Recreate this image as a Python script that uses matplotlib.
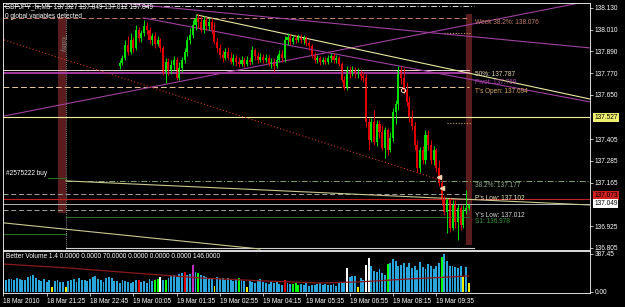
import matplotlib
matplotlib.use('Agg')
import matplotlib.pyplot as plt
import numpy as np

plt.rcParams['font.family'] = ['Liberation Sans', 'DejaVu Sans']

# ---- candles (M5), bar index 43 .. 172
first_bar = 43
opens = [137.810, 137.826, 137.854, 137.926, 137.887, 137.953, 137.909, 138.008, 137.964, 137.992,
         138.030, 138.008, 137.953, 137.975, 137.931, 137.953, 137.909, 137.776, 137.832, 137.788,
         137.815, 137.843, 137.743, 137.799, 137.843, 137.887, 137.953, 137.981, 138.036, 138.075,
         138.053, 138.008, 138.064, 138.030, 138.053, 138.008, 137.942, 137.909, 137.870, 137.854,
         137.887, 137.854, 137.832, 137.854, 137.832, 137.821, 137.843, 137.821, 137.843, 137.832,
         137.898, 137.865, 137.843, 137.859, 137.843, 137.854, 137.821, 137.832, 137.810, 137.843,
         137.876, 137.854, 137.953, 137.970, 137.942, 137.964, 137.953, 137.970, 137.953, 137.964,
         137.937, 137.920, 137.870, 137.843, 137.854, 137.832, 137.843, 137.832, 137.854, 137.865,
         137.843, 137.854, 137.821, 137.732, 137.688, 137.788, 137.776, 137.788, 137.765, 137.776,
         137.754, 137.743, 137.500, 137.401, 137.500, 137.390, 137.489, 137.445, 137.357, 137.456,
         137.346, 137.412, 137.556, 137.600, 137.788, 137.743, 137.677, 137.611, 137.522, 137.478,
         137.373, 137.246, 137.346, 137.291, 137.429, 137.373, 137.291, 137.346, 137.246, 137.164,
         137.070, 137.003, 137.070, 136.915, 137.042, 136.948, 137.025, 136.932, 137.014, 137.027]
highs = [137.843, 137.870, 137.953, 137.975, 137.992, 137.970, 138.036, 138.025, 138.008, 138.064,
         138.053, 138.025, 137.992, 137.997, 137.975, 137.964, 137.920, 137.854, 137.854, 137.843,
         137.865, 137.859, 137.832, 137.859, 137.909, 137.975, 138.019, 138.064, 138.097, 138.097,
         138.086, 138.086, 138.080, 138.075, 138.075, 138.053, 137.964, 137.931, 137.898, 137.909,
         137.915, 137.887, 137.876, 137.870, 137.859, 137.865, 137.859, 137.865, 137.859, 137.920,
         137.909, 137.887, 137.881, 137.876, 137.876, 137.870, 137.854, 137.854, 137.870, 137.898,
         137.898, 137.975, 137.992, 137.986, 137.981, 137.981, 137.986, 137.986, 137.981, 137.975,
         137.953, 137.931, 137.887, 137.870, 137.865, 137.859, 137.859, 137.870, 137.881, 137.881,
         137.870, 137.865, 137.832, 137.754, 137.810, 137.810, 137.810, 137.804, 137.799, 137.788,
         137.776, 137.765, 137.522, 137.522, 137.567, 137.511, 137.511, 137.484, 137.473, 137.467,
         137.445, 137.578, 137.622, 137.810, 137.810, 137.799, 137.721, 137.644, 137.567, 137.500,
         137.401, 137.362, 137.368, 137.456, 137.456, 137.401, 137.368, 137.357, 137.291, 137.180,
         137.092, 137.081, 137.081, 137.070, 137.070, 137.048, 137.042, 137.042, 137.125, 137.049]
lows = [137.793, 137.815, 137.843, 137.870, 137.876, 137.887, 137.898, 137.942, 137.942, 137.975,
        137.986, 137.931, 137.926, 137.909, 137.920, 137.887, 137.760, 137.716, 137.760, 137.765,
        137.788, 137.732, 137.732, 137.776, 137.826, 137.865, 137.931, 137.964, 138.008, 138.019,
        137.997, 137.992, 138.008, 138.008, 137.986, 137.931, 137.887, 137.854, 137.832, 137.843,
        137.843, 137.821, 137.815, 137.810, 137.804, 137.810, 137.804, 137.810, 137.815, 137.821,
        137.843, 137.826, 137.832, 137.826, 137.832, 137.810, 137.799, 137.776, 137.799, 137.832,
        137.832, 137.832, 137.926, 137.926, 137.931, 137.937, 137.942, 137.937, 137.931, 137.920,
        137.898, 137.854, 137.826, 137.826, 137.815, 137.821, 137.821, 137.821, 137.832, 137.826,
        137.826, 137.810, 137.721, 137.677, 137.677, 137.743, 137.754, 137.743, 137.743, 137.732,
        137.721, 137.473, 137.346, 137.390, 137.373, 137.368, 137.412, 137.346, 137.302, 137.318,
        137.335, 137.390, 137.489, 137.567, 137.710, 137.655, 137.589, 137.500, 137.456, 137.346,
        137.224, 137.224, 137.268, 137.268, 137.346, 137.268, 137.263, 137.224, 137.147, 137.042,
        136.987, 136.887, 136.893, 136.904, 136.915, 136.849, 136.904, 136.915, 136.992, 137.012]
closes = [137.826, 137.854, 137.926, 137.887, 137.953, 137.909, 138.008, 137.964, 137.992, 138.030,
          138.008, 137.953, 137.975, 137.931, 137.953, 137.909, 137.776, 137.832, 137.788, 137.815,
          137.843, 137.743, 137.799, 137.843, 137.887, 137.953, 137.981, 138.036, 138.075, 138.053,
          138.008, 138.064, 138.030, 138.053, 138.008, 137.942, 137.909, 137.870, 137.854, 137.887,
          137.854, 137.832, 137.854, 137.832, 137.821, 137.843, 137.821, 137.843, 137.832, 137.898,
          137.865, 137.843, 137.859, 137.843, 137.854, 137.821, 137.832, 137.810, 137.843, 137.876,
          137.854, 137.953, 137.970, 137.942, 137.964, 137.953, 137.970, 137.953, 137.964, 137.937,
          137.920, 137.870, 137.843, 137.854, 137.832, 137.843, 137.832, 137.854, 137.865, 137.843,
          137.854, 137.821, 137.732, 137.688, 137.788, 137.776, 137.788, 137.765, 137.776, 137.754,
          137.743, 137.500, 137.401, 137.500, 137.390, 137.489, 137.445, 137.357, 137.456, 137.346,
          137.412, 137.556, 137.600, 137.788, 137.743, 137.677, 137.611, 137.522, 137.478, 137.373,
          137.246, 137.346, 137.291, 137.429, 137.373, 137.291, 137.346, 137.246, 137.164, 137.070,
          137.003, 137.070, 136.915, 137.042, 136.948, 137.025, 136.932, 137.014, 137.027, 137.049]

# ---- Better Volume, bar index 0 .. 172
volume = [130, 125, 135, 128, 120, 140, 132, 118, 126, 150,
          165, 170, 140, 120, 110, 135, 100, 120, 50, 115,
          125, 105, 98, 55, 110, 120, 130, 100, 140, 125,
          118, 112, 135, 150, 160, 128, 120, 105, 140, 150,
          138, 115, 108, 95, 120, 110, 100, 90, 105, 125,
          125, 100, 115, 95, 130, 110, 125, 130, 150, 120,
          120, 140, 160, 170, 155, 180, 190, 205, 175, 185,
          280, 200, 190, 170, 160, 150, 130, 140, 60, 150,
          130, 145, 120, 140, 125, 110, 130, 140, 120, 115,
          55, 110, 105, 95, 120, 130, 100, 90, 85, 100,
          90, 110, 80, 70, 120, 95, 80, 85, 90, 75,
          80, 70, 95, 65, 70, 75, 80, 90, 70, 85,
          75, 70, 80, 65, 90, 100, 105, 240, 150, 165,
          160, 50, 140, 120, 280, 350, 260, 210, 200, 230,
          190, 170, 290, 300, 340, 320, 260, 275, 300, 250,
          300, 240, 270, 220, 310, 250, 230, 290, 270, 230,
          260, 300, 355, 390, 320, 270, 260, 250, 240, 260,
          150, 250, 90]
vol_special = {18: 'y', 23: 'y', 50: 'r', 56: 'g', 57: 'g', 58: 'w', 60: 'g', 67: 'r', 70: 'm',
               72: 'g', 78: 'y', 87: 'g', 90: 'y', 104: 'r', 107: 'g', 108: 'g', 109: 'g',
               127: 'w', 131: 'y', 134: 'w', 135: 'w', 142: 'g', 162: 'g', 170: 'y', 172: 'y'}
vol_ma_bars = [0, 24, 48, 73, 97, 117, 132, 150, 172]
vol_ma_vals = [285, 245, 194, 143, 112, 92, 104, 133, 163]

time_labels = ['18 Mar 2010', '18 Mar 21:25', '18 Mar 22:45', '19 Mar 00:05', '19 Mar 01:35',
               '19 Mar 02:55', '19 Mar 04:15', '19 Mar 05:35', '19 Mar 06:55', '19 Mar 08:15',
               '19 Mar 09:35']
price_ticks = [138.130, 138.010, 137.890, 137.770, 137.650, 137.405, 137.285, 137.165, 136.925, 136.805]

# ---- horizontal levels: price, bar from, bar to, colour, style, width
levels = [
    (138.141, 0, 174, '#d8d8d8', (0, (6, 2, 1, 2)), 0.7),
    (138.076, 0, 172, '#c8806a', (0, (5, 3)), 0.7),
    (137.787, 0, 172, '#f0d8d8', '-', 0.7),
    (137.769, 0, 172, '#b040b0', '-', 1.3),
    (137.694, 0, 172, '#e8c890', (0, (6, 3)), 0.7),
    (137.527, 0, 217, '#f0f0a0', '-', 0.8),
    (137.177, 23, 217, '#80a070', (0, (6, 2, 1, 2)), 0.7),
    (137.102, 0, 172, '#a0a0a0', (0, (5, 3)), 0.7),
    (137.074, 0, 217, '#c02020', '-', 0.8),
    (137.049, 0, 217, '#d0d0d0', '-', 0.6),
    (137.012, 0, 172, '#a0a0a0', (0, (5, 3)), 0.7),
    (136.978, 23, 172, '#2c6a2c', '-', 0.8),
    (136.882, 0, 23, '#2c6a2c', '-', 0.8),
    (137.191, 16.6, 23, '#2c6a2c', '-', 0.8),
    (136.805, 23, 174, '#d0d0d0', '-', 0.8),
    (137.992, 163, 173, '#c8a060', (0, (1, 1.5)), 0.8),
    (137.495, 164, 173, '#c8a060', (0, (1, 1.5)), 0.8),
]
level_labels = [
    (138.076, 'Week 38.2%: 138.076', '#c8806a'),
    (137.787, '50%: 137.787', '#e8d8b0'),
    (137.744, 'Pivot: 137.769', '#b040b0'),
    (137.694, "T's Open: 137.694", '#d8a860'),
    (137.177, '38.2%: 137.177', '#90a888'),
    (137.102, "P's Low: 137.102", '#e8e8b8'),
    (137.012, "Y's Low: 137.012", '#d8d8d8'),
    (136.978, 'S1: 136.978', '#3a9a3a'),
]
# ---- trend lines: (bar1, price1), (bar2, price2), colour, style
trends = [
    ((35.7, 138.168), (216.8, 137.909), '#a040a0', '-'),
    ((51.6, 138.075), (216.8, 137.611), '#a040a0', '-'),
    ((0.2, 137.533), (214.9, 138.163), '#a040a0', '-'),
    ((71.5, 138.091), (216.8, 137.627), '#e8e8a0', '-'),
    ((23.1, 137.175), (216.8, 137.042), '#c8c890', '-'),
    ((0.2, 136.943), (94.8, 136.799), '#c8c890', '-'),
    ((0.2, 137.953), (161.3, 137.180), '#d03820', (0, (1, 2))),
]

W, H = 625, 307
fig = plt.figure(figsize=(W / 100, H / 100), dpi=100, facecolor='black')


def rect(l, t, r, b):
    return [l / W, 1 - b / H, (r - l) / W, (b - t) / H]


ax = fig.add_axes(rect(3, 3, 590, 250), facecolor='black')
av = fig.add_axes(rect(3, 251, 590, 293), facecolor='black')
xmin, xmax = -0.15, 216.8
fs = 4.7

# bands
ax.axvspan(20.2, 23.1, ymin=0.15, ymax=0.945, color='#5a1c1c', lw=0)
ax.text(21.7, 137.93, 'Today', rotation=-90, color='#808080', fontsize=fs, ha='center', va='center')
ax.axvspan(171.0, 173.1, ymin=0.02, ymax=0.955, color='#5a1c1c', lw=0)
ax.axvline(23.1, color='#c0c0c0', lw=0.6, ls=(0, (1, 1.5)))

for p, b0, b1, c, ls, lw in levels:
    ax.plot([b0, b1], [p, p], color=c, ls=ls, lw=lw)
for (b0, p0), (b1, p1), c, ls in trends:
    ax.plot([b0, b1], [p0, p1], color=c, ls=ls, lw=0.8)
for p, t, c in level_labels:
    ax.text(174.4, p - 0.006, t, color=c, fontsize=fs, va='top', ha='left')

# candles
bars = np.arange(first_bar, first_bar + len(closes))
o = np.array(opens); h = np.array(highs); l = np.array(lows); c = np.array(closes)
up = c >= o
col = np.where(up, '#00e000', '#e00000')
ax.vlines(bars, l, h, colors=col, lw=0.7)
ax.bar(bars, np.maximum(np.abs(c - o), 0.002), bottom=np.minimum(o, c), width=0.75, color=col, lw=0)

# order markers
ax.plot([161], [137.197], marker='<', color='#f0d0b0', ms=3)
ax.plot([162], [137.136], marker='<', color='#f0d0b0', ms=3)
ax.plot([147.7], [137.677], marker='o', mfc='none', mec='#f0e0c0', ms=3, mew=0.7)
ax.text(0.8, 137.197, '#2575222 buy', color='white', fontsize=fs, va='bottom')

ax.set_xlim(xmin, xmax)
ax.set_ylim(136.7935, 138.157)
ax.yaxis.tick_right()
ax.set_yticks(price_ticks)
ax.set_yticklabels(['%.3f' % v for v in price_ticks])
ax.tick_params(axis='y', colors='white', labelsize=fs, length=2, width=0.5, pad=1.5)
ax.set_xticks([])
for s in ax.spines.values():
    s.set_color('white'); s.set_linewidth(0.6)

# price boxes
box = dict(boxstyle='square,pad=0.15', lw=0)
ax.text(1.007, 137.094, '137.073', transform=ax.get_yaxis_transform(), fontsize=fs, va='center',
        color='black', bbox=dict(box, fc='#d02020'))
ax.text(1.007, 137.527, '137.527', transform=ax.get_yaxis_transform(), fontsize=fs, va='center',
        color='black', bbox=dict(box, fc='#f0f070'))
ax.text(1.007, 137.049, '137.049', transform=ax.get_yaxis_transform(), fontsize=fs, va='center',
        color='black', bbox=dict(box, fc='white'))

# volume
vcol = {'b': '#2aa6dc', 'y': '#f0f000', 'w': '#ffffff', 'g': '#00ff00', 'r': '#dd0000', 'm': '#c030c0'}
vb = np.arange(len(volume))
av.bar(vb, volume, width=0.7, color=[vcol[vol_special.get(i, 'b')] for i in vb], lw=0)
av.plot(vol_ma_bars, vol_ma_vals, color='#8b1a1a', lw=0.9)
av.set_xlim(xmin, xmax)
av.set_ylim(-10.2, 418)
av.yaxis.tick_right()
av.set_yticks([387.45, 0])
av.set_yticklabels(['387.45', '0.00'])
av.tick_params(axis='y', colors='white', labelsize=fs, length=2, width=0.5, pad=1.5)
av.set_xticks(np.arange(0, 161, 16))
av.set_xticklabels(time_labels, ha='left')
av.tick_params(axis='x', colors='white', labelsize=fs, length=2, width=0.5, pad=1.5)
for s in av.spines.values():
    s.set_color('white'); s.set_linewidth(0.6)
av.text(0.8, 400, 'Better Volume 1.4 0.0000 0.0000 70.0000 0.0000 0.0000 0.0000 146.0000',
        color='white', fontsize=fs, va='top')

fig.text(5 / W, 1 - 7 / H, 'GBPJPY_fx,M5  137.027 137.049 137.012 137.049', color='white',
         fontsize=fs, va='center')
fig.text(5 / W, 1 - 16 / H, '0 global variables detected', color='white', fontsize=fs, va='center')

fig.savefig('out.png', dpi=100, facecolor='black')
